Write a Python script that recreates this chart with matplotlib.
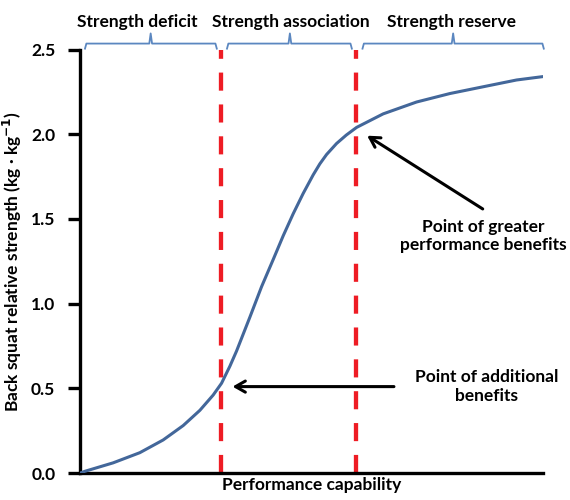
import numpy as np
import matplotlib
matplotlib.use("Agg")
import matplotlib.pyplot as plt

# curve (performance capability 0-100, strength kg/kg)
perf = [0, 0.97, 7.09, 12.86, 17.90, 22.23, 25.84, 28.71, 30.53, 32.32, 33.77,
        36.65, 39.18, 41.69, 43.85, 46.01, 48.17, 50.34, 51.78, 53.23, 55.39,
        57.5, 59.72, 65.47, 72.69, 79.89, 87.09, 94.31, 100]
strength = [0, 0.01, 0.06, 0.12, 0.195, 0.28, 0.37, 0.46, 0.53, 0.63, 0.72,
            0.92, 1.10, 1.26, 1.40, 1.53, 1.65, 1.76, 1.825, 1.88, 1.945,
            1.995, 2.04, 2.12, 2.19, 2.24, 2.28, 2.32, 2.34]

thresholds = [30.3, 59.7]
zone_labels = ["Strength deficit", "Strength association", "Strength reserve"]
zone_spans = [(1.0, 29.5), (31.7, 58.7), (61.0, 100.2)]
zone_tips = [15.2, 45.3, 80.6]
zone_text_x = [12.3, 45.5, 80.3]
yticks = [0.0, 0.5, 1.0, 1.5, 2.0, 2.5]

plt.rcParams['font.family'] = ['Lato', 'DejaVu Sans']
plt.rcParams['font.weight'] = 'bold'

fig = plt.figure(figsize=(5.7, 5.0), dpi=100)
ax = fig.add_axes([0.141, 0.054, 0.8114, 0.847])

blue = "#43679a"
ax.plot(perf, strength, color=blue, lw=2.2, solid_capstyle="round",
        solid_joinstyle="round", zorder=3)

for xv in thresholds:
    ax.plot([xv, xv], [0, 2.5], color="#ee1c24", lw=3.1,
            dashes=(4.2, 3.2), zorder=2)

ax.set_xlim(0, 100)
ax.set_ylim(0, 2.5)
ax.set_yticks(yticks)
ax.set_yticklabels(["%.1f" % v for v in yticks], fontsize=12.5, fontweight="bold")
ax.set_xticks([])
for s in ["top", "right"]:
    ax.spines[s].set_visible(False)
for s in ["left", "bottom"]:
    ax.spines[s].set_linewidth(2.4)
ax.tick_params(axis="y", direction="out", length=9, width=2.4, pad=9)

ax.set_xlabel("Performance capability", fontsize=12.5, fontweight="bold", labelpad=3)
ax.set_ylabel("Back squat relative strength (kg · kg$^{\\mathbf{-1}}$)",
              fontsize=12.5, fontweight="bold", labelpad=5)

# braces and zone names above the plot
by, bdrop, btip = 2.535, 0.03, 0.06
for (x0, x1), tip in zip(zone_spans, zone_tips):
    xs = [x0, x0 + 0.3, tip - 0.3, tip, tip + 0.3, x1 - 0.3, x1]
    ys = [by - bdrop, by, by, by + btip, by, by, by - bdrop]
    ax.plot(xs, ys, color="#5b87c0", lw=1.3, clip_on=False)
for xt, lab in zip(zone_text_x, zone_labels):
    ax.text(xt, 2.66, lab, ha="center", va="center", fontsize=12.5, fontweight="bold")

# annotations
arrow = dict(arrowstyle="->,head_length=0.7,head_width=0.4", color="black", lw=2.2)
ax.annotate("", xy=(32.3, 0.51), xytext=(68.4, 0.51), arrowprops=arrow)
ax.annotate("", xy=(61.5, 2.00), xytext=(87.5, 1.55), arrowprops=arrow)
ax.text(87.9, 0.51, "Point of additional\nbenefits", ha="center", va="center",
        fontsize=12.5, fontweight="bold", linespacing=1.2)
ax.text(87.2, 1.40, "Point of greater\nperformance benefits", ha="center", va="center",
        fontsize=12.5, fontweight="bold", linespacing=1.2)

fig.savefig("out.png", dpi=100)
